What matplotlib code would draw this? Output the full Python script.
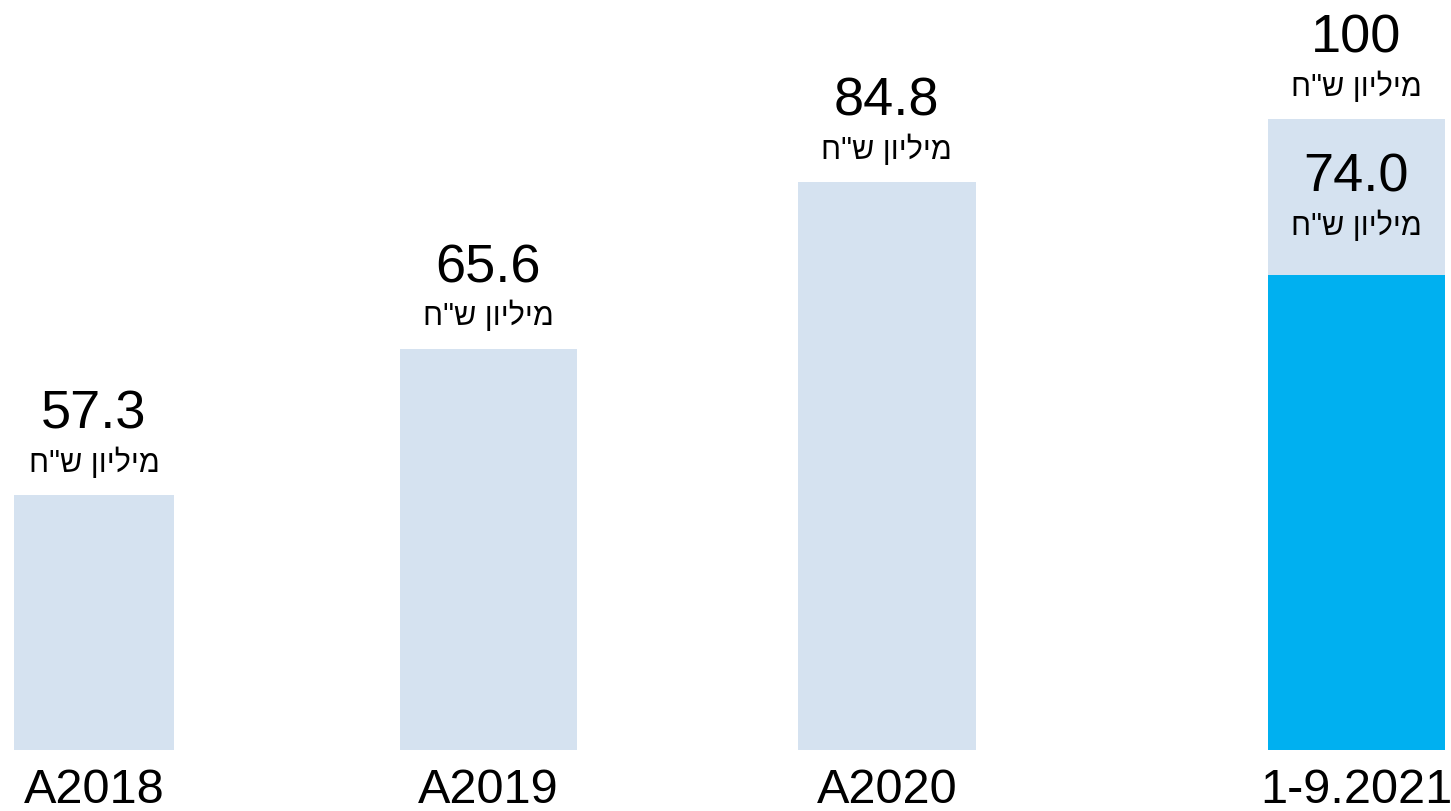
#!/usr/bin/env python3
import numpy as np
import matplotlib
matplotlib.use("Agg")
import matplotlib.pyplot as plt

plt.rcParams["font.family"] = ["Liberation Sans", "DejaVu Sans"]

# data
categories = ["A2018", "A2019", "A2020", "1-9.2021"]
values = [57.3, 65.6, 84.8, 100]
# the bars in the source are not drawn to scale: heights as seen (last bar = 100)
bar_heights = [40.4, 63.6, 90.0, 100.0]
partial_label = 74.0
partial_height = 75.3
unit = "מיליון ש\"ח"

LIGHT = "#D5E2F0"
DARK = "#00B0F0"


def rtl(s: str) -> str:
    # matplotlib has no bidi support, so flip Hebrew by hand
    return s[::-1]


x = np.array([0.0, 1.0, 2.01, 3.2])
widths = [0.405, 0.45, 0.45, 0.45]

fig = plt.figure(figsize=(14.51, 8.11), dpi=100)
ax = fig.add_axes([0, 0, 1, 1])

ax.bar(x, bar_heights, width=widths, color=LIGHT)
ax.bar(x[-1], partial_height, width=widths[-1], color=DARK)

for xi, h, v in zip(x, bar_heights, values):
    txt = f"{v:.1f}" if v != 100 else f"{v:g}"
    ax.annotate(txt, (xi, h), xytext=(0, 48), textcoords="offset points",
                ha="center", va="baseline", fontsize=39)
    ax.annotate(rtl(unit), (xi, h), xytext=(0, 17), textcoords="offset points",
                ha="center", va="baseline", fontsize=22)

ax.annotate(f"{partial_label:.1f}", (x[-1], partial_height), xytext=(0, 60),
            textcoords="offset points", ha="center", va="baseline", fontsize=39)
ax.annotate(rtl(unit), (x[-1], partial_height), xytext=(0, 29),
            textcoords="offset points", ha="center", va="baseline", fontsize=22)

for xi, c in zip(x, categories):
    ax.annotate(c, (xi, 0), xytext=(0, -38), textcoords="offset points",
                ha="center", va="baseline", fontsize=35)

ax.set_xlim(-0.238, 3.44)
ax.set_ylim(-9.67, 118.9)
ax.axis("off")

fig.savefig("out.png", dpi=100)
plt.close(fig)
